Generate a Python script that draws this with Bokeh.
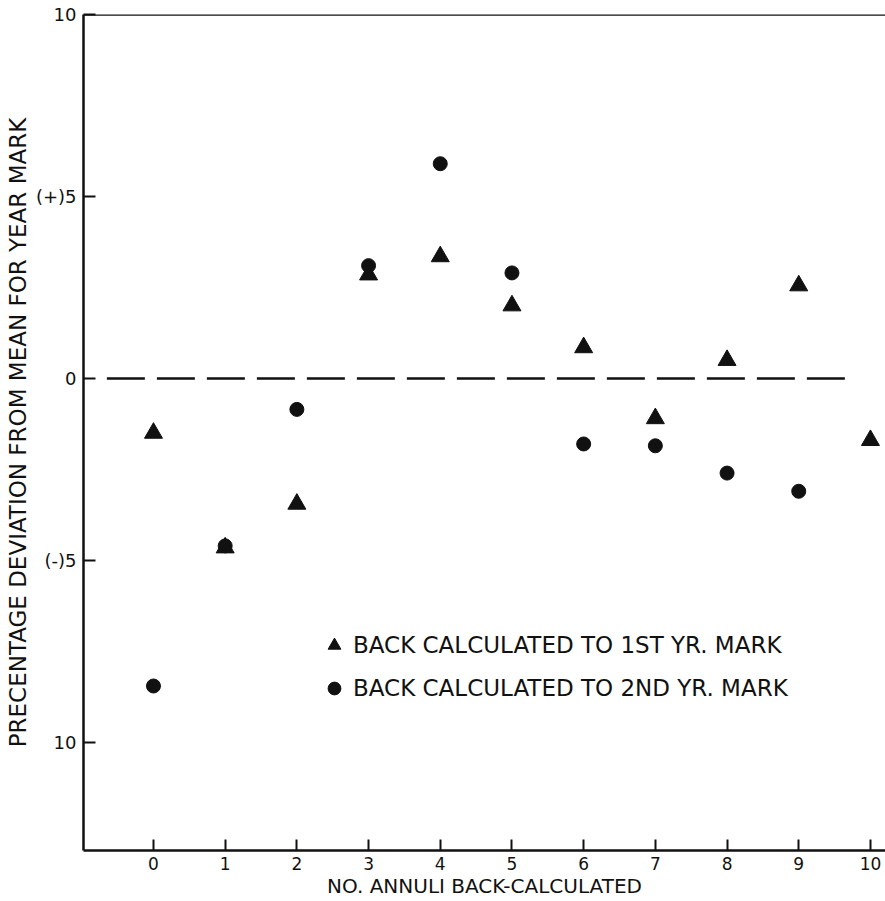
from bokeh.plotting import figure
from bokeh.models import Range1d, FixedTicker, Span, Legend, LegendItem
from bokeh.embed import file_html
from bokeh.resources import INLINE

# ---- data ----
annuli = [0, 1, 2, 3, 4, 5, 6, 7, 8, 9, 10]
dev_1st_yr = [-1.5, -4.65, -3.45, 2.85, 3.35, 2.0, 0.85, -1.1, 0.5, 2.55, -1.7]
annuli_2nd = [0, 1, 2, 3, 4, 5, 6, 7, 8, 9]
dev_2nd_yr = [-8.45, -4.6, -0.85, 3.1, 5.9, 2.9, -1.8, -1.85, -2.6, -3.1]

x_ticks = [0, 1, 2, 3, 4, 5, 6, 7, 8, 9, 10]
y_ticks = [10, 5, 0, -5, -10]
y_tick_labels = {10: "10", 5: "(+)5", 0: "0", -5: "(-)5", -10: "10"}

zero_line_x = [-0.65, 9.7]
zero_line_y = [0, 0]

FONT = "DejaVu Sans"
INK = "#111111"

p = figure(width=885, height=901, output_backend="svg", toolbar_location=None,
           x_range=Range1d(-0.976, 10.21), y_range=Range1d(-12.97, 10),
           min_border_left=83, min_border_right=0, min_border_top=14,
           min_border_bottom=51)
p.outline_line_color = None
p.grid.visible = False
p.background_fill_color = "white"
p.border_fill_color = "white"

# axes
p.xaxis.ticker = FixedTicker(ticks=x_ticks)
p.yaxis.ticker = FixedTicker(ticks=y_ticks)
p.yaxis.major_label_overrides = y_tick_labels
for ax in (p.xaxis, p.yaxis):
    ax.axis_line_width = 2.5
    ax.axis_line_color = INK
    ax.major_tick_line_color = INK
    ax.major_tick_line_width = 2
    ax.major_tick_out = 0
    ax.minor_tick_line_color = None
    ax.major_label_text_font = FONT
    ax.major_label_text_color = INK
    ax.axis_label_text_font = FONT
    ax.axis_label_text_font_style = "normal"
    ax.axis_label_text_color = INK
p.xaxis.major_label_text_font_size = "17px"
p.yaxis.major_label_text_font_size = "18px"
p.xaxis.major_tick_in = 11
p.yaxis.major_tick_in = 12
p.xaxis.major_label_standoff = 6
p.yaxis.major_label_standoff = 7

p.xaxis.axis_label = "NO. ANNULI BACK-CALCULATED"
p.xaxis.axis_label_text_font_size = "20px"
p.xaxis.axis_label_standoff = 1
p.yaxis.axis_label = "PRECENTAGE DEVIATION FROM MEAN FOR YEAR MARK"
p.yaxis.axis_label_text_font_size = "23px"
p.yaxis.axis_label_standoff = 2

# top frame line
p.add_layout(Span(location=10, dimension="width", line_color=INK, line_width=2.5))

# dashed zero reference
p.line(zero_line_x, zero_line_y, line_color=INK, line_width=2.5, line_dash="38 12")

r1 = p.scatter(annuli, dev_1st_yr, marker="triangle", size=18,
               fill_color=INK, line_color=INK)
r2 = p.scatter(annuli_2nd, dev_2nd_yr, marker="circle", size=14,
               fill_color=INK, line_color=INK)

legend = Legend(items=[LegendItem(label="BACK CALCULATED TO 1ST YR. MARK", renderers=[r1]),
                       LegendItem(label="BACK CALCULATED TO 2ND YR. MARK", renderers=[r2])],
                location=(235, 146), orientation="vertical")
legend.border_line_color = None
legend.background_fill_alpha = 0
legend.padding = 0
legend.margin = 0
legend.spacing = 11
legend.glyph_width = 32
legend.glyph_height = 32
legend.label_standoff = 3
legend.label_text_font = FONT
legend.label_text_font_size = "23px"
legend.label_text_color = INK
p.add_layout(legend, "center")

open("out.html", "w").write(file_html(p, INLINE))
